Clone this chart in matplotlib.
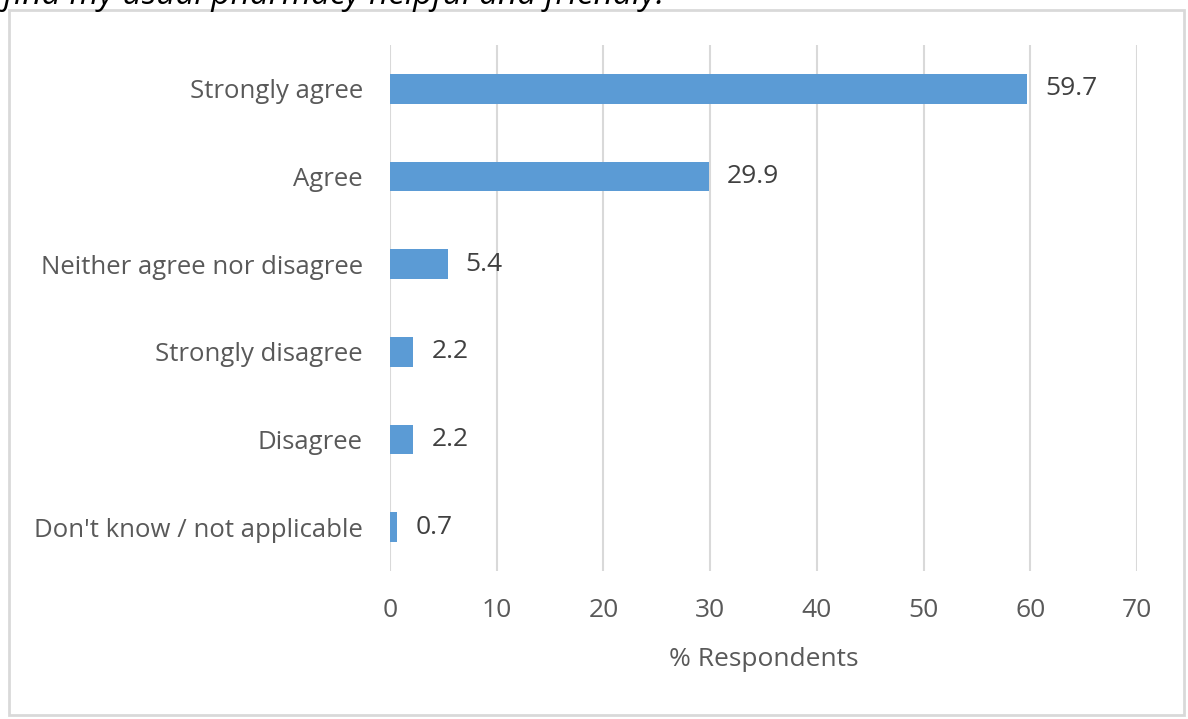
import matplotlib.pyplot as plt
from matplotlib.patches import Rectangle

categories = ["Strongly agree", "Agree", "Neither agree nor disagree",
              "Strongly disagree", "Disagree", "Don't know / not applicable"]
values = [59.7, 29.9, 5.4, 2.2, 2.2, 0.7]
xticks = [0, 10, 20, 30, 40, 50, 60, 70]

plt.rcParams['font.family'] = ['Open Sans', 'DejaVu Sans']

W, H = 1188, 719
fig = plt.figure(figsize=(W / 100, H / 100), dpi=100)

# chart border
fig.patches.append(Rectangle((9 / W, 4 / H), (1184 - 9) / W, (709 - 4) / H,
                             transform=fig.transFigure, fill=False,
                             edgecolor='#D9D9D9', linewidth=2))

# title, clipped off at the top of the image
fig.text(-0.012, 1 - 4 / H, "I find my usual pharmacy helpful and friendly.",
         ha='left', va='baseline', fontsize=24, style='italic', color='black')

ax = fig.add_axes([390 / W, 1 - 571 / H, (1137 - 390) / W, (571 - 45) / H])
ypos = list(range(len(categories)))
ax.barh(ypos, values, height=0.34, color='#5B9BD5', zorder=3)
ax.set_ylim(len(categories) - 0.5, -0.5)
ax.set_xlim(0, 70)
ax.set_yticks(ypos)
ax.set_yticklabels(categories, fontsize=18.5, color='#595959')
ax.set_xticks(xticks)
ax.set_xticklabels([str(t) for t in xticks], fontsize=19, color='#595959')
ax.tick_params(axis='both', length=0)
ax.tick_params(axis='x', pad=19.5)
ax.tick_params(axis='y', pad=19.5)
ax.grid(axis='x', color='#D9D9D9', linewidth=1.5, zorder=0)
for s in ax.spines.values():
    s.set_visible(False)
ax.set_xlabel("% Respondents", fontsize=19, color='#595959', labelpad=17)

for y, v in zip(ypos, values):
    ax.annotate(f"{v}", (v, y), xytext=(13, 0), textcoords='offset points',
                va='center', ha='left', fontsize=19, color='#404040')

fig.savefig("out.png", dpi=100)
